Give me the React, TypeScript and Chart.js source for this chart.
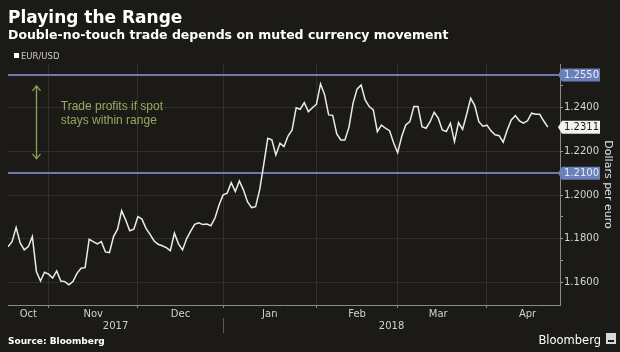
import React, { useEffect, useRef } from 'react';
import { Chart, registerables } from 'chart.js';

Chart.register(...registerables);

// EUR/USD daily closes, one per business day, 18 Oct 2017 -> 23 Apr 2018
const eurUsd = [
  1.1764, 1.1787, 1.1851, 1.1781, 1.1749, 1.1764, 1.1810, 1.1650, 1.1607, 1.1647,
  1.1638, 1.1620, 1.1653, 1.1607, 1.1604, 1.1589, 1.1604, 1.1642, 1.1665, 1.1668,
  1.1798, 1.1787, 1.1777, 1.1787, 1.1740, 1.1737, 1.1810, 1.1844, 1.1929, 1.1886,
  1.1837, 1.1844, 1.1901, 1.1890, 1.1848, 1.1820, 1.1790, 1.1775, 1.1768, 1.1760,
  1.1746, 1.1826, 1.1777, 1.1749, 1.1800, 1.1835, 1.1866, 1.1873, 1.1865, 1.1868,
  1.1860, 1.1895, 1.1955, 1.2001, 1.2009, 1.2057, 1.2016, 1.2065, 1.2024, 1.1970,
  1.1943, 1.1947, 1.2024, 1.2140, 1.2260, 1.2253, 1.2184, 1.2237, 1.2222, 1.2270,
  1.2298, 1.2400, 1.2393, 1.2423, 1.2382, 1.2400, 1.2416, 1.2509, 1.2460, 1.2367,
  1.2365, 1.2280, 1.2252, 1.2252, 1.2310, 1.2420, 1.2485, 1.2504, 1.2436, 1.2405,
  1.2390, 1.2290, 1.2320, 1.2306, 1.2295, 1.2240, 1.2194, 1.2268, 1.2321, 1.2336,
  1.2405, 1.2405, 1.2313, 1.2306, 1.2336, 1.2379, 1.2352, 1.2298, 1.2291, 1.2329,
  1.2245, 1.2332, 1.2301, 1.2370, 1.2443, 1.2410, 1.2336, 1.2315, 1.2320, 1.2294,
  1.2276, 1.2272, 1.2242, 1.2298, 1.2344, 1.2364, 1.2340, 1.2329, 1.2340, 1.2375,
  1.2370, 1.2370, 1.2339, 1.2311,
];

// x axis (business-day index)
const monthNames = ['Oct', 'Nov', 'Dec', 'Jan', 'Feb', 'Mar', 'Apr'];
const monthLabelPos = [5, 21, 42.5, 64.5, 86, 106, 128];
const monthStarts = [10, 32, 53, 76, 96, 118];
const yearNames = ['2017', '2018'];
const yearSpans = [[0, 53], [53, 136]];
const xMin = 0;
const xMax = 136;

// y axis
const yMin = 1.1497;
const yMax = 1.26;
const yTickValues = [1.16, 1.17, 1.18, 1.19, 1.2, 1.21, 1.22, 1.23, 1.24, 1.25];
const rangeLevels = [1.255, 1.21];

// annotation (data coordinates)
const arrowX = 7;
const arrowTop = 1.2500;
const arrowBottom = 1.2166;
const noteX = 13;
const noteLines = ['Trade profits if spot', 'stays within range'];
const noteValues = [1.2390, 1.2326];

const BG = '#1c1a17';
const SANS = '"DejaVu Sans", sans-serif';
const ARIAL = '"Liberation Sans", Arial, sans-serif';

const isEven = (v: number) => Math.round(v * 100) % 2 === 0;

const decor = {
  id: 'decor',
  beforeDraw(chart: any) {
    const ctx = chart.ctx;
    ctx.save();
    ctx.fillStyle = BG;
    ctx.fillRect(0, 0, chart.width, chart.height);
    ctx.restore();
  },
  beforeDatasetsDraw(chart: any) {
    const { ctx, chartArea: a, scales } = chart;
    ctx.save();
    ctx.strokeStyle = '#6f79ad';
    ctx.lineWidth = 2;
    rangeLevels.forEach((lv) => {
      const y = Math.round(scales.y.getPixelForValue(lv));
      ctx.beginPath();
      ctx.moveTo(a.left, y);
      ctx.lineTo(a.right, y);
      ctx.stroke();
    });
    ctx.restore();
  },
  afterDraw(chart: any) {
    const { ctx, chartArea: a, scales } = chart;
    const xs = scales.x;
    const ys = scales.y;
    ctx.save();

    // title block
    ctx.fillStyle = '#ffffff';
    ctx.textBaseline = 'alphabetic';
    ctx.textAlign = 'left';
    ctx.font = `bold 17px ${SANS}`;
    ctx.fillText('Playing the Range', 8, 23);
    ctx.font = `bold 12.5px ${SANS}`;
    ctx.fillText('Double-no-touch trade depends on muted currency movement', 8, 38.5);

    // legend
    ctx.fillStyle = '#ffffff';
    ctx.fillRect(14, 53, 5, 5);
    ctx.fillStyle = '#c8c8c8';
    ctx.font = `8.5px ${SANS}`;
    ctx.fillText('EUR/USD', 21, 58.5);

    // value boxes on the right axis
    const box = (v: number, text: string, fill: string, color: string) => {
      const y = ys.getPixelForValue(v);
      const x0 = a.right + 1;
      const h = 6.5;
      ctx.beginPath();
      ctx.moveTo(x0 - 3, y);
      ctx.lineTo(x0 + 1, y - h);
      ctx.lineTo(x0 + 39, y - h);
      ctx.lineTo(x0 + 39, y + h);
      ctx.lineTo(x0 + 1, y + h);
      ctx.closePath();
      ctx.fillStyle = fill;
      ctx.fill();
      ctx.fillStyle = color;
      ctx.font = `10px ${SANS}`;
      ctx.textBaseline = 'middle';
      ctx.fillText(text, x0 + 3, y + 0.5);
    };
    rangeLevels.forEach((lv) => box(lv, lv.toFixed(4), '#6a80bb', '#e6eaf6'));
    const last = eurUsd[eurUsd.length - 1];
    box(last, last.toFixed(4), '#f2f2f2', '#1a1a1a');

    // axis title
    ctx.save();
    ctx.translate(608, (a.top + a.bottom) / 2);
    ctx.rotate(Math.PI / 2);
    ctx.textAlign = 'center';
    ctx.textBaseline = 'middle';
    ctx.fillStyle = '#e0e0e0';
    ctx.font = `11px ${SANS}`;
    ctx.fillText('Dollars per euro', 0, 0);
    ctx.restore();

    // range arrow
    const ax = Math.round(xs.getPixelForValue(arrowX)) + 0.5;
    const at = ys.getPixelForValue(arrowTop);
    const ab = ys.getPixelForValue(arrowBottom);
    ctx.strokeStyle = '#8ea353';
    ctx.lineWidth = 1.3;
    ctx.beginPath();
    ctx.moveTo(ax, at);
    ctx.lineTo(ax, ab);
    ctx.moveTo(ax - 4, at + 5);
    ctx.lineTo(ax, at);
    ctx.lineTo(ax + 4, at + 5);
    ctx.moveTo(ax - 4, ab - 5);
    ctx.lineTo(ax, ab);
    ctx.lineTo(ax + 4, ab - 5);
    ctx.stroke();

    ctx.fillStyle = '#95aa5c';
    ctx.font = `12px ${ARIAL}`;
    ctx.textAlign = 'left';
    ctx.textBaseline = 'alphabetic';
    noteLines.forEach((t, i) => {
      ctx.fillText(t, xs.getPixelForValue(noteX), ys.getPixelForValue(noteValues[i]));
    });

    // year labels + separator
    ctx.fillStyle = '#d0d0d0';
    ctx.font = `10px ${SANS}`;
    ctx.textAlign = 'center';
    ctx.textBaseline = 'middle';
    yearNames.forEach((yn, i) => {
      const cx = (xs.getPixelForValue(yearSpans[i][0]) + xs.getPixelForValue(yearSpans[i][1])) / 2;
      ctx.fillText(yn, cx, 326);
    });
    const sx = Math.round(xs.getPixelForValue(yearSpans[1][0])) + 0.5;
    ctx.strokeStyle = '#5a5a5a';
    ctx.lineWidth = 1;
    ctx.beginPath();
    ctx.moveTo(sx, 318);
    ctx.lineTo(sx, 333);
    ctx.stroke();

    // footer
    ctx.textAlign = 'left';
    ctx.textBaseline = 'alphabetic';
    ctx.fillStyle = '#ffffff';
    ctx.font = `bold 9px ${SANS}`;
    ctx.fillText('Source: Bloomberg', 8, 344);
    ctx.font = `11.5px ${SANS}`;
    ctx.textAlign = 'right';
    ctx.fillText('Bloomberg', 601, 344);
    // small logo mark
    ctx.fillStyle = '#d8d8d8';
    ctx.fillRect(606, 333, 10, 11);
    ctx.fillStyle = BG;
    ctx.fillRect(608, 340, 6, 2);
    ctx.restore();
  },
};

export default function App() {
  const ref = useRef<HTMLCanvasElement>(null);
  useEffect(() => {
    document.body.style.margin = '0';
    const data = eurUsd.map((v, i) => ({ x: i, y: v }));
    const chart = new Chart(ref.current as HTMLCanvasElement, {
      type: 'line',
      data: {
        datasets: [
          {
            label: 'EUR/USD',
            data,
            borderColor: '#ebebeb',
            borderWidth: 1.5,
            pointRadius: 0,
            tension: 0,
            fill: false,
          },
        ],
      },
      options: {
        responsive: false,
        animation: false,
        devicePixelRatio: 1,
        layout: { padding: { left: 8, top: 64, right: 15, bottom: 27 } },
        plugins: { legend: { display: false }, tooltip: { enabled: false }, title: { display: false } },
        scales: {
          x: {
            type: 'linear',
            min: xMin,
            max: xMax,
            afterBuildTicks: (s: any) => {
              s.ticks = [...monthStarts, ...monthLabelPos].sort((p, q) => p - q).map((v) => ({ value: v }));
            },
            afterFit: (s: any) => {
              s.height = 20;
            },
            ticks: {
              autoSkip: false,
              maxRotation: 0,
              minRotation: 0,
              padding: 0,
              color: '#d0d0d0',
              font: { family: SANS, size: 10 },
              callback: (v: any) => {
                const k = monthLabelPos.indexOf(Number(v));
                return k >= 0 ? monthNames[k] : '';
              },
            },
            grid: {
              color: (c: any) => (c.tick && monthStarts.includes(c.tick.value) ? '#33302c' : 'rgba(0,0,0,0)'),
              tickColor: (c: any) => (c.tick && monthStarts.includes(c.tick.value) ? '#8a8a8a' : 'rgba(0,0,0,0)'),
              tickLength: 3,
              lineWidth: 1,
            },
            border: { display: true, color: '#8a8a8a', width: 1 },
          },
          y: {
            type: 'linear',
            position: 'right',
            min: yMin,
            max: yMax,
            afterBuildTicks: (s: any) => {
              s.ticks = yTickValues.map((v) => ({ value: v }));
            },
            afterFit: (s: any) => {
              s.width = 45;
            },
            ticks: {
              padding: 1,
              color: '#d4d4d4',
              font: { family: SANS, size: 10 },
              callback: (v: any) => (isEven(Number(v)) ? Number(v).toFixed(4) : ''),
            },
            grid: {
              color: (c: any) => (c.tick && isEven(c.tick.value) ? '#302d2a' : 'rgba(0,0,0,0)'),
              tickColor: '#9a9a9a',
              tickLength: 3,
              lineWidth: 1,
            },
            border: { display: true, color: '#8a8a8a', width: 1 },
          },
        },
      },
      plugins: [decor],
    } as any);
    return () => chart.destroy();
  }, []);
  return (
    <div style={{ width: 620, height: 352, background: BG }}>
      <canvas ref={ref} width={620} height={352} style={{ display: 'block' }} />
    </div>
  );
}
